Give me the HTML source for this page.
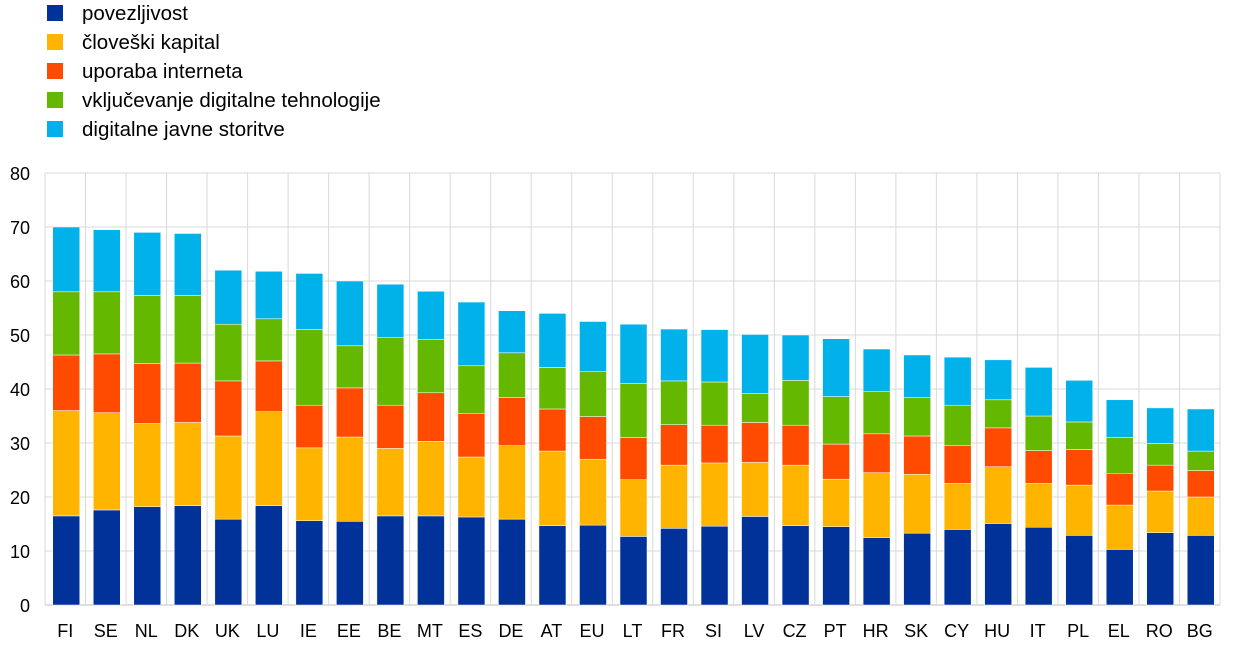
<!DOCTYPE html>
<html><head><meta charset="utf-8"><style>
body{margin:0;background:#fff;width:1240px;height:649px;overflow:hidden;font-family:"Liberation Sans",sans-serif}
</style></head><body>
<svg id="s" width="1240" height="649" xmlns="http://www.w3.org/2000/svg" font-family="Liberation Sans, sans-serif"></svg>
<script>
const d=[["FI",16.5,36,46.3,58,70],["SE",17.6,35.6,46.5,58,69.5],["NL",18.2,33.6,44.7,57.3,69],["DK",18.4,33.8,44.8,57.3,68.8],["UK",15.9,31.3,41.5,52,62],["LU",18.4,35.8,45.2,53,61.8],["IE",15.6,29.1,37,51,61.4],["EE",15.5,31.1,40.2,48,60],["BE",16.5,29,37,49.5,59.4],["MT",16.5,30.3,39.3,49.2,58.1],["ES",16.3,27.4,35.5,44.3,56.1],["DE",15.9,29.5,38.4,46.7,54.5],["AT",14.7,28.5,36.3,44,54],["EU",14.8,27,34.9,43.2,52.5],["LT",12.7,23.2,31,41,52],["FR",14.2,25.9,33.4,41.5,51.1],["SI",14.6,26.3,33.3,41.3,51],["LV",16.4,26.4,33.8,39.2,50.1],["CZ",14.7,25.9,33.3,41.6,50],["PT",14.5,23.3,29.8,38.6,49.3],["HR",12.5,24.5,31.7,39.5,47.4],["SK",13.3,24.2,31.3,38.4,46.3],["CY",14,22.5,29.5,37,45.9],["HU",15.1,25.6,32.8,38,45.4],["IT",14.4,22.5,28.6,35,44],["PL",12.9,22.2,28.8,33.9,41.6],["EL",10.3,18.5,24.4,31,38],["RO",13.4,21.1,25.9,29.9,36.5],["BG",12.9,20,24.9,28.5,36.3]];
const c=["#003299","#FFB400","#FF4B00","#65B800","#00B1EA"];
const names=["povezljivost","človeški kapital","uporaba interneta","vključevanje digitalne tehnologije","digitalne javne storitve"];
const y=v=>605-v*5.4,x0=45,sw=1175/29;
let h="";
for(let i=0;i<=8;i++){h+=`<line x1="${x0}" x2="1220" y1="${y(i*10)}" y2="${y(i*10)}" stroke="${i==0?'#bfbfbf':'#d9d9d9'}"/>`;h+=`<text x="30" y="${y(i*10)+7}" font-size="18" text-anchor="end" fill="#000">${i*10}</text>`;}
for(let i=0;i<=29;i++){const xx=x0+i*sw;h+=`<line x1="${xx}" x2="${xx}" y1="173" y2="605" stroke="#d9d9d9"/>`;}
d.forEach((r,i)=>{const cx=x0+(i+0.5)*sw+1;let p=0;for(let k=0;k<5;k++){const t=r[k+1];h+=`<rect x="${cx-13.5}" y="${y(t)}" width="27" height="${y(p)-y(t)}" fill="${c[k]}" stroke="#fff" stroke-width="0.5"/>`;p=t;}
h+=`<text x="${cx-1}" y="637" font-size="18" text-anchor="middle">${r[0]}</text>`;});
names.forEach((n,k)=>{h+=`<rect x="47" y="${5+k*29}" width="16" height="16" fill="${c[k]}"/><text x="82" y="${20+k*29}" font-size="20.5">${n}</text>`;});
document.getElementById("s").innerHTML=h;
</script>
</body></html>
